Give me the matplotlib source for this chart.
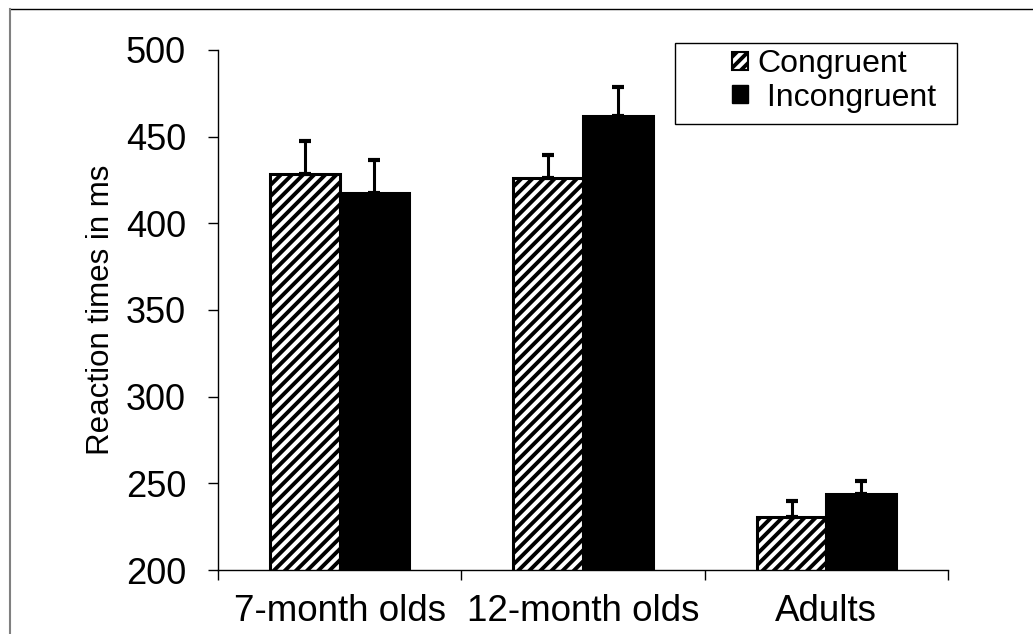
import numpy as np
import matplotlib.pyplot as plt
from matplotlib.lines import Line2D
from matplotlib.patches import Patch, Rectangle

plt.rcParams['font.family'] = ['Liberation Sans', 'DejaVu Sans']
plt.rcParams['hatch.linewidth'] = 2.8

# Data
groups = ['7-month olds', '12-month olds', 'Adults']
congruent = [428.5, 426, 230.5]
congruent_err = [19, 13.5, 9.5]
incongruent = [417.5, 462, 244]
incongruent_err = [19, 16.5, 7.5]
yticks = [200, 250, 300, 350, 400, 450, 500]

fig = plt.figure(figsize=(10.33, 6.34), dpi=100)
ax = fig.add_axes([218 / 1033, 1 - 570 / 634, 730 / 1033, 520 / 634])

x = np.arange(len(groups))
w = 0.286

ax.bar(x - w / 2, congruent, w, color='white', edgecolor='black',
       hatch='///', linewidth=2.2, zorder=2)
ax.bar(x + w / 2, incongruent, w, color='black', edgecolor='black',
       linewidth=2.2, zorder=2)

ax.errorbar(x - w / 2, congruent, yerr=[np.zeros(3), congruent_err], fmt='none',
            ecolor='black', elinewidth=2.2, capsize=4.5, capthick=3, zorder=3)
ax.errorbar(x + w / 2, incongruent, yerr=[np.zeros(3), incongruent_err], fmt='none',
            ecolor='black', elinewidth=2.2, capsize=4.5, capthick=3, zorder=3)

ax.set_xlim(-0.5, 2.5)
ax.set_ylim(200, 500)
ax.set_yticks(yticks)
ax.tick_params(axis='y', labelsize=26, length=7, width=1, direction='out', pad=16)
ax.set_xticks([-0.5, 0.5, 1.5, 2.5])
ax.set_xticklabels([])
ax.tick_params(axis='x', length=7, width=1, direction='out')
ax.set_xticks(x, minor=True)
ax.set_xticklabels(groups, minor=True, fontsize=26.5)
ax.tick_params(axis='x', which='minor', length=0, pad=17)

for s in ['top', 'right']:
    ax.spines[s].set_visible(False)
ax.spines['left'].set_linewidth(1)
ax.spines['bottom'].set_linewidth(1)

ax.set_ylabel('Reaction times in ms', fontsize=22.5, labelpad=7)

# legend box
fig.add_artist(Rectangle((675 / 1033, 1 - 124 / 634), 282 / 1033, 81 / 634,
                         transform=fig.transFigure, facecolor='white',
                         edgecolor='black', linewidth=1, zorder=4))
handles = [Patch(facecolor='white', edgecolor='black', hatch='///', linewidth=1.5),
           Patch(facecolor='black', edgecolor='black')]
fig.legend(handles, ['Congruent', ' Incongruent'], loc='center',
           bbox_to_anchor=(834 / 1033, 1 - 81 / 634),
           bbox_transform=fig.transFigure, fontsize=23, frameon=False,
           handlelength=0.5, handleheight=0.5, handletextpad=0.3,
           borderaxespad=0, borderpad=0, labelspacing=0.1)

# outer frame (top and left edges visible)
fig.add_artist(Line2D([10 / 1033, 1.0], [1 - 9 / 634, 1 - 9 / 634],
                      transform=fig.transFigure, color='black', linewidth=1))
fig.add_artist(Line2D([10 / 1033, 10 / 1033], [0, 1 - 9 / 634],
                      transform=fig.transFigure, color='gray', linewidth=1.5))

fig.savefig('out.png', dpi=100)
